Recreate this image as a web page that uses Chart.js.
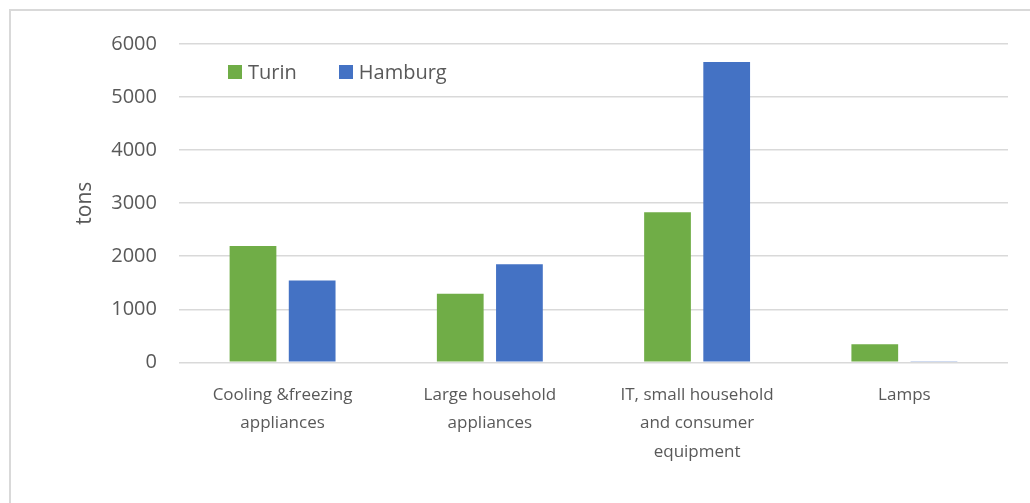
<!DOCTYPE html>
<html>
<head>
<meta charset="utf-8">
<script src="https://cdn.jsdelivr.net/npm/chart.js@4.4.1/dist/chart.umd.min.js"></script>
<style>
    html, body { margin: 0; padding: 0; background: #fff; }
    #wrap { position: relative; width: 1030px; height: 503px; overflow: hidden; }
    #frame {
        position: absolute; left: 9px; top: 9px; width: 1100px; height: 600px;
        border-left: 2px solid #d9d9d9; border-top: 2px solid #d9d9d9;
    }
    #chart { position: absolute; left: 0; top: 0; }
    #legend {
        position: absolute; left: 228px; top: 58px;
        font-family: "Open Sans", sans-serif; font-size: 20px; color: #595959;
        display: flex; align-items: center;
    }
    #legend .item { display: flex; align-items: center; margin-right: 42px; }
    #legend .box { width: 14px; height: 14px; margin-right: 6px; }
</style>
</head>
<body>
<div id="wrap">
    <div id="frame"></div>
    <canvas id="chart" width="1030" height="503"></canvas>
    <div id="legend"></div>
</div>
<script>
// Chart data
const categories = [
    ['Cooling &freezing', 'appliances'],
    ['Large household', 'appliances'],
    ['IT, small household', 'and consumer', 'equipment'],
    'Lamps'
];
const turinValues = [2190, 1290, 2830, 340];
const hamburgValues = [1540, 1850, 5660, 20];
const yTicks = [0, 1000, 2000, 3000, 4000, 5000, 6000];

const seriesNames = ['Turin', 'Hamburg'];
const seriesColors = ['#70ad47', '#4472c4'];

const textColor = '#595959';
const gridColor = '#d9d9d9';

// Build the legend as plain HTML so it can sit inside the plot area
const legendEl = document.getElementById('legend');
seriesNames.forEach((name, i) => {
    const item = document.createElement('div');
    item.className = 'item';
    item.innerHTML = `<span class="box" style="background:${seriesColors[i]}"></span><span>${name}</span>`;
    legendEl.appendChild(item);
});

new Chart(document.getElementById('chart'), {
    type: 'bar',
    data: {
        labels: categories,
        datasets: [
            {
                label: seriesNames[0],
                data: turinValues,
                backgroundColor: seriesColors[0],
                categoryPercentage: 0.571,
                barPercentage: 0.79
            },
            {
                label: seriesNames[1],
                data: hamburgValues,
                backgroundColor: seriesColors[1],
                categoryPercentage: 0.571,
                barPercentage: 0.79,
                minBarLength: 1
            }
        ]
    },
    options: {
        responsive: false,
        animation: false,
        layout: {
            padding: { left: 58, right: 22, top: 44, bottom: 18 }
        },
        plugins: {
            legend: { display: false },
            tooltip: { enabled: false }
        },
        scales: {
            x: {
                grid: { display: false, drawTicks: false },
                border: { display: false },
                ticks: {
                    color: textColor,
                    maxRotation: 0,
                    autoSkip: false,
                    padding: 18,
                    font: { family: '"Open Sans", sans-serif', size: 17, lineHeight: 1.7 }
                }
            },
            y: {
                min: 0,
                max: 6000,
                afterBuildTicks: (axis) => {
                    axis.ticks = yTicks.map(v => ({ value: v }));
                },
                grid: { color: gridColor, lineWidth: 1.5, drawTicks: false },
                border: { display: false },
                ticks: {
                    color: textColor,
                    padding: 22,
                    callback: (value) => String(value),
                    font: { family: '"Open Sans", sans-serif', size: 20 }
                },
                title: {
                    display: true,
                    text: 'tons',
                    color: textColor,
                    padding: { top: 14, bottom: -8 },
                    font: { family: '"Open Sans", sans-serif', size: 21 }
                }
            }
        }
    }
});
</script>
</body>
</html>
